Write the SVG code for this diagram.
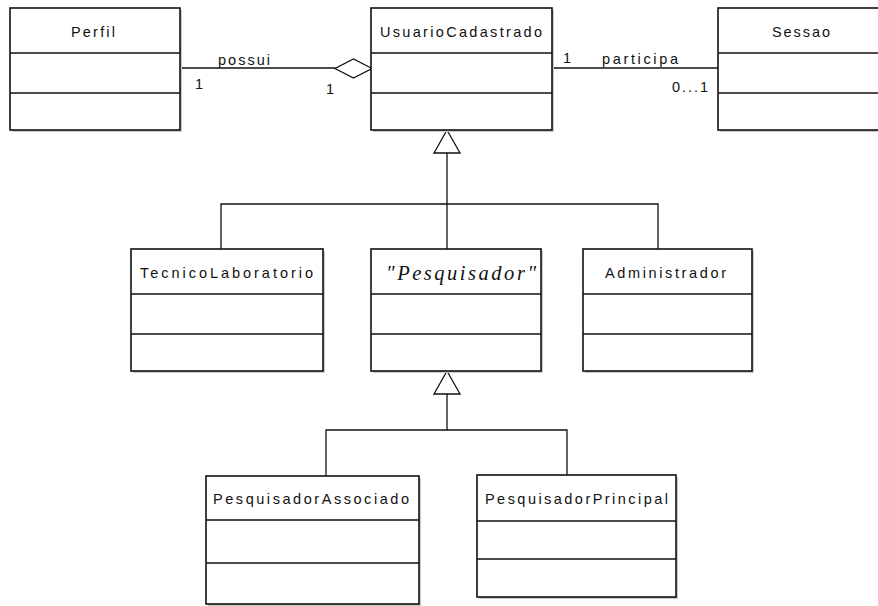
<svg xmlns="http://www.w3.org/2000/svg" width="878" height="606" viewBox="0 0 878 606">
  <style>
    .shadow { fill: #c9c9c9; }
    .box { fill: #ffffff; stroke: #111111; stroke-width: 1.6; }
    .sep { stroke: #111111; stroke-width: 1.3; }
    .name { font-family: "Liberation Sans", Arial, sans-serif; font-size: 14.5px; fill: #111111; }
    .abstract { font-family: "Liberation Serif", "Times New Roman", serif; font-style: italic; font-size: 20.5px; fill: #111111; }
    .lbl { font-family: "Liberation Sans", Arial, sans-serif; font-size: 14.5px; fill: #111111; }
    .conn { fill: none; stroke: #111111; stroke-width: 1.3; }
    .head { fill: #ffffff; stroke: #111111; stroke-width: 1.3; stroke-linejoin: miter; }
  </style>

  <rect width="878" height="606" fill="#ffffff"/>

  <!-- connectors: associations and generalizations -->
  <g id="connectors">
    <!-- Perfil <> UsuarioCadastrado (aggregation) -->
    <line class="conn" x1="180" y1="68" x2="335" y2="68"/>
    <polygon class="head" points="372,68.5 353.5,59 335,68.5 353.5,78"/>
    <text class="lbl" x="218" y="65" textLength="52" lengthAdjust="spacing">possui</text>
    <text class="lbl" x="195" y="89">1</text>
    <text class="lbl" x="326" y="94">1</text>

    <!-- UsuarioCadastrado - Sessao -->
    <line class="conn" x1="552" y1="68" x2="718" y2="68"/>
    <text class="lbl" x="563" y="63">1</text>
    <text class="lbl" x="602" y="64" textLength="76" lengthAdjust="spacing">participa</text>
    <text class="lbl" x="672" y="92" textLength="36" lengthAdjust="spacing">0...1</text>

    <!-- subclasses of UsuarioCadastrado -->
    <polyline class="conn" points="447,153 447,249"/>
    <polyline class="conn" points="221,249 221,204 658,204 658,249"/>
    <polygon class="head" points="447,130 434,153 460,153"/>

    <!-- subclasses of Pesquisador -->
    <polyline class="conn" points="447,394 447,430"/>
    <polyline class="conn" points="326,476 326,430 567,430 567,475"/>
    <polygon class="head" points="447,371 434,394 460,394"/>
  </g>

  <g id="Perfil">
    <rect class="shadow" x="12" y="10" width="170" height="122"/>
    <rect class="box" x="10" y="8" width="170" height="122"/>
    <line class="sep" x1="10" y1="53" x2="180" y2="53"/>
    <line class="sep" x1="10" y1="93" x2="180" y2="93"/>
    <text class="name" x="71" y="37" textLength="44" lengthAdjust="spacing">Perfil</text>
  </g>

  <g id="UsuarioCadastrado">
    <rect class="shadow" x="373" y="10" width="181" height="122"/>
    <rect class="box" x="371" y="8" width="181" height="122"/>
    <line class="sep" x1="371" y1="53" x2="552" y2="53"/>
    <line class="sep" x1="371" y1="93" x2="552" y2="93"/>
    <text class="name" x="380" y="37" textLength="162" lengthAdjust="spacing">UsuarioCadastrado</text>
  </g>

  <g id="Sessao">
    <rect class="shadow" x="720" y="10" width="170" height="122"/>
    <rect class="box" x="718" y="8" width="170" height="122"/>
    <line class="sep" x1="718" y1="53" x2="888" y2="53"/>
    <line class="sep" x1="718" y1="93" x2="888" y2="93"/>
    <text class="name" x="772" y="37" textLength="58" lengthAdjust="spacing">Sessao</text>
  </g>

  <g id="TecnicoLaboratorio">
    <rect class="shadow" x="133" y="251" width="192" height="122"/>
    <rect class="box" x="131" y="249" width="192" height="122"/>
    <line class="sep" x1="131" y1="294" x2="323" y2="294"/>
    <line class="sep" x1="131" y1="334" x2="323" y2="334"/>
    <text class="name" x="140" y="278" textLength="173" lengthAdjust="spacing">TecnicoLaboratorio</text>
  </g>

  <g id="Pesquisador">
    <rect class="shadow" x="373" y="251" width="170" height="122"/>
    <rect class="box" x="371" y="249" width="170" height="122"/>
    <line class="sep" x1="371" y1="294" x2="541" y2="294"/>
    <line class="sep" x1="371" y1="334" x2="541" y2="334"/>
    <text class="abstract" x="386" y="280" textLength="150" lengthAdjust="spacing">"Pesquisador"</text>
  </g>

  <g id="Administrador">
    <rect class="shadow" x="585" y="251" width="169" height="122"/>
    <rect class="box" x="583" y="249" width="169" height="122"/>
    <line class="sep" x1="583" y1="294" x2="752" y2="294"/>
    <line class="sep" x1="583" y1="334" x2="752" y2="334"/>
    <text class="name" x="605" y="278" textLength="121" lengthAdjust="spacing">Administrador</text>
  </g>

  <g id="PesquisadorAssociado">
    <rect class="shadow" x="208" y="478" width="213" height="128"/>
    <rect class="box" x="206" y="476" width="213" height="128"/>
    <line class="sep" x1="206" y1="520" x2="419" y2="520"/>
    <line class="sep" x1="206" y1="563" x2="419" y2="563"/>
    <text class="name" x="213" y="504" textLength="196" lengthAdjust="spacing">PesquisadorAssociado</text>
  </g>

  <g id="PesquisadorPrincipal">
    <rect class="shadow" x="479" y="477" width="199" height="122"/>
    <rect class="box" x="477" y="475" width="199" height="122"/>
    <line class="sep" x1="477" y1="521" x2="676" y2="521"/>
    <line class="sep" x1="477" y1="559" x2="676" y2="559"/>
    <text class="name" x="485" y="504" textLength="183" lengthAdjust="spacing">PesquisadorPrincipal</text>
  </g>
</svg>
